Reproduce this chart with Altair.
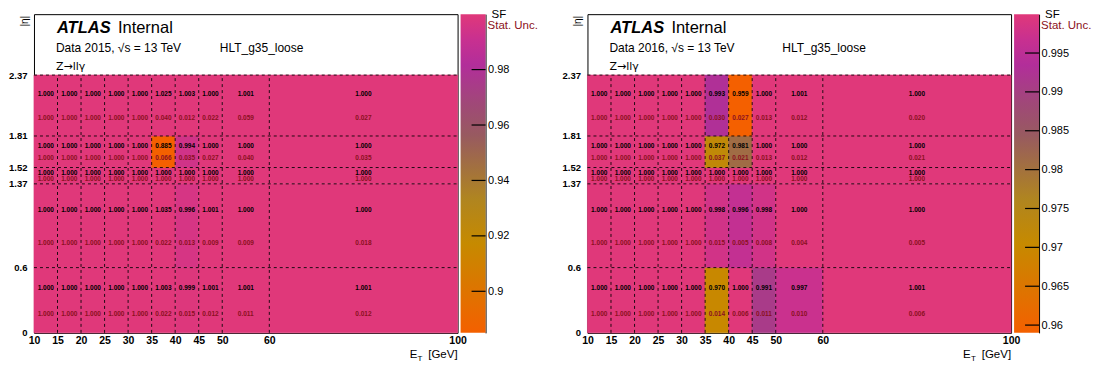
import altair as alt
import pandas as pd

# ---------------- data ----------------
x_edges = [10, 15, 20, 25, 30, 35, 40, 45, 50, 60, 100]
eta_edges = [0, 0.6, 1.37, 1.52, 1.81, 2.37]

# rows: eta bins from low (0-0.6) to high (1.81-2.37); columns: ET bins
sf_2015 = [
    [1.000, 1.000, 1.000, 1.000, 1.000, 1.003, 0.999, 1.001, 1.001, 1.001],
    [1.000, 1.000, 1.000, 1.000, 1.000, 1.035, 0.996, 1.001, 1.000, 1.000],
    [1.000, 1.000, 1.000, 1.000, 1.000, 1.000, 1.000, 1.000, 1.000, 1.000],
    [1.000, 1.000, 1.000, 1.000, 1.000, 0.885, 0.994, 1.000, 1.000, 1.000],
    [1.000, 1.000, 1.000, 1.000, 1.000, 1.025, 1.003, 1.000, 1.001, 1.000],
]
unc_2015 = [
    [1.000, 1.000, 1.000, 1.000, 1.000, 0.022, 0.015, 0.012, 0.011, 0.012],
    [1.000, 1.000, 1.000, 1.000, 1.000, 0.022, 0.013, 0.009, 0.009, 0.018],
    [1.000, 1.000, 1.000, 1.000, 1.000, 1.000, 1.000, 1.000, 1.000, 1.000],
    [1.000, 1.000, 1.000, 1.000, 1.000, 0.066, 0.035, 0.027, 0.040, 0.035],
    [1.000, 1.000, 1.000, 1.000, 1.000, 0.040, 0.012, 0.022, 0.059, 0.027],
]
sf_2016 = [
    [1.000, 1.000, 1.000, 1.000, 1.000, 0.970, 1.000, 0.991, 0.997, 1.001],
    [1.000, 1.000, 1.000, 1.000, 1.000, 0.998, 0.996, 0.998, 1.000, 1.000],
    [1.000, 1.000, 1.000, 1.000, 1.000, 1.000, 1.000, 1.000, 1.000, 1.000],
    [1.000, 1.000, 1.000, 1.000, 1.000, 0.972, 0.981, 1.000, 1.000, 1.000],
    [1.000, 1.000, 1.000, 1.000, 1.000, 0.993, 0.959, 1.000, 1.001, 1.000],
]
unc_2016 = [
    [1.000, 1.000, 1.000, 1.000, 1.000, 0.014, 0.006, 0.011, 0.010, 0.006],
    [1.000, 1.000, 1.000, 1.000, 1.000, 0.015, 0.005, 0.008, 0.004, 0.005],
    [1.000, 1.000, 1.000, 1.000, 1.000, 1.000, 1.000, 1.000, 1.000, 1.000],
    [1.000, 1.000, 1.000, 1.000, 1.000, 0.037, 0.021, 0.013, 0.012, 0.021],
    [1.000, 1.000, 1.000, 1.000, 1.000, 0.030, 0.027, 0.013, 0.012, 0.020],
]

ticks_2015 = [0.9, 0.92, 0.94, 0.96, 0.98]
ticks_2016 = [0.96, 0.965, 0.97, 0.975, 0.98, 0.985, 0.99, 0.995]
zrange_2015 = [0.885, 1.0]
zrange_2016 = [0.959, 1.0]

# ---------------- style ----------------
FONT = "Liberation Sans"
W, H = 424, 319
CB_GAP, CB_W = 3, 25
ETA_TOP = 2.93
UNC_COLOR = "#8B1020"
STOP_T = [0.00, 0.12, 0.28, 0.42, 0.52, 0.62, 0.72, 0.84, 0.92, 1.00]
STOP_C = ["#f46000", "#e07200", "#c68a00", "#b08520", "#a27040",
          "#985a60", "#a04878", "#b22e9a", "#c83090", "#e0387a"]


def cells(sf, unc):
    rows = []
    for i in range(len(eta_edges) - 1):
        e1, e2 = eta_edges[i], eta_edges[i + 1]
        for j in range(len(x_edges) - 1):
            x1, x2 = x_edges[j], x_edges[j + 1]
            rows.append(dict(x1=x1, x2=x2, e1=e1, e2=e2, xc=(x1 + x2) / 2,
                             y_sf=e1 + 0.69 * (e2 - e1), y_unc=e1 + 0.29 * (e2 - e1),
                             sf=sf[i][j], unc=unc[i][j],
                             sf_txt=f"{sf[i][j]:.3f}", unc_txt=f"{unc[i][j]:.3f}"))
    return pd.DataFrame(rows)


def one():
    return pd.DataFrame({"a": [0]})


def txt(text, x, y, size=12, weight="normal", style="normal", align="left",
        baseline="alphabetic", color="black", angle=0, font=FONT):
    return alt.Chart(one()).mark_text(
        text=text, x=x, y=y, fontSize=size, fontWeight=weight, fontStyle=style,
        align=align, baseline=baseline, color=color, font=font, angle=angle)


def panel(sf, unc, zr, ticks, data_label, hlt_x):
    df = cells(sf, unc)
    lo, hi = zr
    xs = alt.Scale(domain=[10, 100], nice=False, zero=False)
    ys = alt.Scale(domain=[0, ETA_TOP], nice=False, zero=False)
    cs = alt.Scale(domain=[lo + t * (hi - lo) for t in STOP_T], range=STOP_C,
                   clamp=True, interpolate="rgb")
    xaxis = alt.Axis(values=x_edges, format="d", title=None, grid=False, ticks=False,
                     domain=False, labelFontWeight="bold", labelFontSize=10.5,
                     labelPadding=3, labelFlush=False, labelOverlap=False,
                     labelFont=FONT, labelColor="black")
    yaxis = alt.Axis(values=eta_edges, format=".3~f", title=None, grid=False, ticks=False,
                     domain=False, labelFontWeight="bold", labelFontSize=9.5,
                     labelPadding=7, labelFlush=False, labelOverlap=False,
                     labelFont=FONT, labelColor="black", orient="left")
    rect = alt.Chart(df).mark_rect(strokeWidth=0.6).encode(
        x=alt.X("x1:Q", scale=xs, axis=xaxis), x2="x2:Q",
        y=alt.Y("e1:Q", scale=ys, axis=yaxis), y2="e2:Q",
        color=alt.Color("sf:Q", scale=cs, legend=None),
        stroke=alt.Stroke("sf:Q", scale=cs, legend=None),
    )
    vdf = pd.DataFrame({"x": x_edges[1:-1], "y0": 0, "y1": eta_edges[-1]})
    hdf = pd.DataFrame({"y": eta_edges[1:], "x0": x_edges[0], "x1": x_edges[-1]})
    vlines = alt.Chart(vdf).mark_rule(color="black", strokeDash=[3, 3], strokeWidth=1,
                                      opacity=0.85).encode(
        x=alt.X("x:Q", scale=xs), y=alt.Y("y0:Q", scale=ys), y2="y1:Q")
    hlines = alt.Chart(hdf).mark_rule(color="black", strokeDash=[3, 3], strokeWidth=1,
                                      opacity=0.85).encode(
        y=alt.Y("y:Q", scale=ys), x=alt.X("x0:Q", scale=xs), x2="x1:Q")
    t_sf = alt.Chart(df).mark_text(fontSize=6.5, fontWeight="bold", color="black",
                                   font=FONT).encode(
        x=alt.X("xc:Q", scale=xs), y=alt.Y("y_sf:Q", scale=ys), text="sf_txt:N")
    t_unc = alt.Chart(df).mark_text(fontSize=6.5, fontWeight="bold", color=UNC_COLOR,
                                    font=FONT).encode(
        x=alt.X("xc:Q", scale=xs), y=alt.Y("y_unc:Q", scale=ys), text="unc_txt:N")
    ann = [
        txt("ATLAS", 23, 19, size=16.5, weight="bold", style="italic"),
        txt("Internal", 84, 19, size=16.5),
        txt(data_label, 22, 38, size=12),
        txt("HLT_g35_loose", hlt_x, 38, size=12),
        txt("Z\u2192ll\u03b3", 22, 56, size=11, font="DejaVu Sans"),
        txt("|\u03b7|", -9, 7, size=10, align="center", baseline="middle", angle=270),
        txt("E", 376, 344, size=11.5),
        txt("T", 384, 347, size=8),
        txt("[GeV]", W, 344, size=11.5, align="right"),
    ]
    main = alt.layer(rect, vlines, hlines, t_sf, t_unc, *ann)

    # colour bar (own y scale, drawn to the right of the frame)
    cb_scale = alt.Scale(domain=[lo, hi], nice=False, zero=False)
    cb_axis = alt.Axis(
        orient="right", offset=CB_GAP + CB_W, values=ticks, format=".3~f",
        title=None, ticks=False, domain=True, domainColor="black", domainWidth=1,
        grid=False, labelFontSize=11, labelPadding=2, labelFont=FONT,
        labelColor="black", labelFlush=False, labelOverlap=False)
    grad = {"gradient": "linear", "x1": 0, "y1": 1, "x2": 0, "y2": 0,
            "stops": [{"offset": t, "color": c} for t, c in zip(STOP_T, STOP_C)]}
    base = pd.DataFrame({"lo": [lo], "hi": [hi]})
    bar = alt.Chart(base).mark_rect(fill=grad).encode(
        x=alt.value(W + CB_GAP), x2=alt.value(W + CB_GAP + CB_W),
        y=alt.Y("lo:Q", scale=cb_scale, axis=cb_axis),
        y2="hi:Q")
    tk = alt.Chart(pd.DataFrame({"v": ticks})).mark_rule(
        color="black", strokeWidth=1.2).encode(
        y=alt.Y("v:Q", scale=cb_scale),
        x=alt.value(W + CB_GAP + 11), x2=alt.value(W + CB_GAP + CB_W))
    sf_t = txt("SF", W + CB_GAP + 31, -5.5, size=11.5, baseline="top")
    su_t = txt("Stat. Unc.", W + CB_GAP + 27, 5.5, size=11.5, baseline="top", color=UNC_COLOR)
    cbar = alt.layer(bar, tk, sf_t, su_t)

    return alt.layer(main, cbar).resolve_scale(y="independent").properties(width=W, height=H)


left = panel(sf_2015, unc_2015, zrange_2015, ticks_2015, "Data 2015, \u221as = 13 TeV", 186)
right = panel(sf_2016, unc_2016, zrange_2016, ticks_2016, "Data 2016, \u221as = 13 TeV", 195)

chart = alt.hconcat(left, right, spacing=23).resolve_scale(
    color="independent", stroke="independent"
).properties(
    padding=0, background="white"
).configure(font=FONT).configure_view(stroke="black", strokeWidth=1)

chart.save("out.html", embed_options={"renderer": "svg", "actions": False})
